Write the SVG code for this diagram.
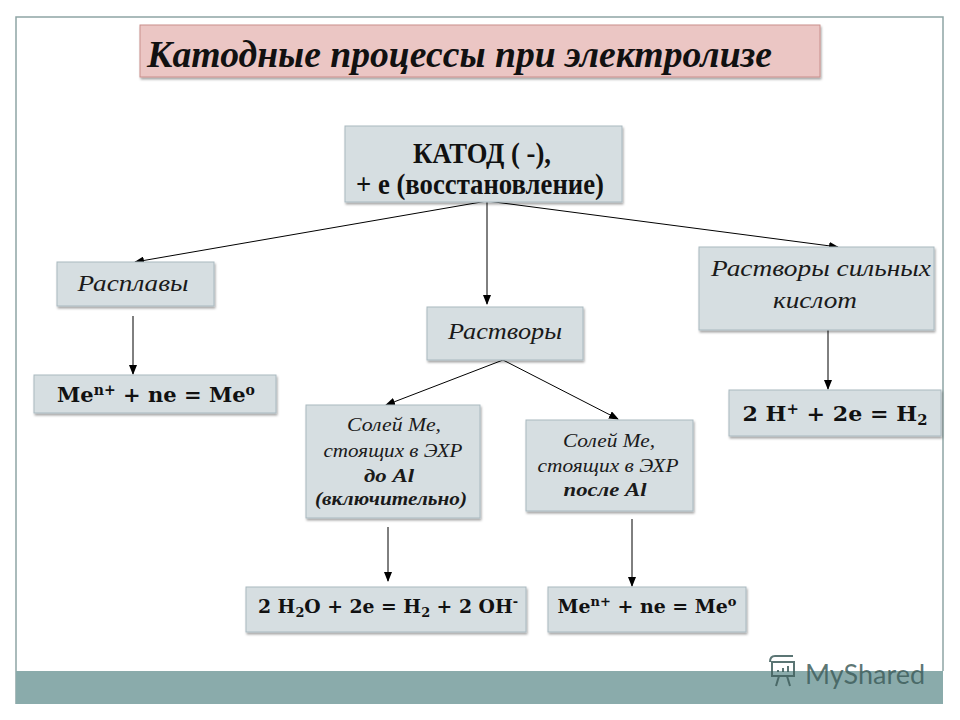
<svg xmlns="http://www.w3.org/2000/svg" width="960" height="720" viewBox="0 0 960 720">
<defs>
<marker id="arr" markerWidth="10" markerHeight="8" refX="9" refY="4" orient="auto" markerUnits="userSpaceOnUse">
<path d="M0,0 L10,4 L0,8 Z" fill="#000"/>
</marker>
<filter id="sh" x="-10%" y="-10%" width="130%" height="140%">
<feDropShadow dx="1" dy="2" stdDeviation="1.2" flood-color="#000" flood-opacity="0.35"/>
</filter>
</defs>
<style>
.box{fill:#d6dee1;stroke:#a9b9bf;stroke-width:1;filter:url(#sh)}
.it{font-family:'Liberation Serif','Times New Roman',serif;font-style:italic;fill:#1a1a1a;text-anchor:middle}
.bd{font-family:'DejaVu Serif','Liberation Serif',serif;font-weight:bold;fill:#111;text-anchor:middle}
.tn{font-family:'Liberation Serif','Times New Roman',serif;font-weight:bold;fill:#111;text-anchor:middle}
.con{stroke:#000;stroke-width:1;fill:none;marker-end:url(#arr)}
</style>
<rect x="0" y="0" width="960" height="720" fill="#fff"/>
<g id="frame">
<path d="M16,704 L16,17 L943,17 L943,671" fill="none" stroke="#8fa5a5" stroke-width="1.5"/>
<rect x="16" y="671" width="927" height="33" fill="#8aabab"/>
<text x="805" y="684" font-family="Lato, 'Open Sans', sans-serif" font-size="27" fill="#3f5e5c" fill-opacity="0.85">MyShared</text>
<g fill="none" stroke="#3f5e5c" stroke-width="2" opacity="0.85">
<rect x="772" y="662" width="22" height="14"/>
<line x1="779" y1="676" x2="776" y2="686"/>
<line x1="787" y1="676" x2="790" y2="686"/>
<line x1="778" y1="672" x2="778" y2="670"/>
<line x1="783" y1="672" x2="783" y2="668"/>
<line x1="788" y1="672" x2="788" y2="666"/>
<path d="M770,662 q0,-6 5,-6 h18"/>
</g>
</g>
<g id="title">
<rect x="140" y="25" width="680" height="52" fill="#ebc6c4" stroke="#c98f8c" stroke-width="1" filter="url(#sh)"/>
<text x="147" y="67" font-family="'Liberation Serif','Times New Roman',serif" font-weight="bold" font-style="italic" font-size="37" fill="#111" textLength="625" lengthAdjust="spacingAndGlyphs">Катодные процессы при электролизе</text>
</g>
<g id="connectors">
<line class="con" x1="487" y1="201" x2="135" y2="262"/>
<line class="con" x1="487" y1="201" x2="487" y2="304"/>
<line class="con" x1="487" y1="201" x2="838" y2="247"/>
<line class="con" x1="133" y1="316" x2="133" y2="374"/>
<line class="con" x1="503" y1="360" x2="386" y2="405"/>
<line class="con" x1="503" y1="360" x2="618" y2="419"/>
<line class="con" x1="828" y1="330" x2="828" y2="389"/>
<line class="con" x1="388" y1="527" x2="388" y2="581"/>
<line class="con" x1="632" y1="519" x2="632" y2="586"/>
</g>
<g id="katod">
<rect class="box" x="345" y="126" width="277" height="76"/>
<text class="tn" x="482" y="163" font-size="29" textLength="138" lengthAdjust="spacingAndGlyphs">КАТОД ( -),</text>
<text class="tn" x="480" y="194" font-size="29" textLength="248" lengthAdjust="spacingAndGlyphs">+ е (восстановление)</text>
</g>
<g id="rasplavy">
<rect class="box" x="57" y="262" width="157" height="44"/>
<text class="it" x="133" y="291" font-size="23" textLength="111" lengthAdjust="spacingAndGlyphs">Расплавы</text>
</g>
<g id="me1">
<rect class="box" x="34" y="375" width="242" height="38"/>
<text class="bd" x="156" y="402" font-size="21" textLength="198" lengthAdjust="spacingAndGlyphs">Me<tspan font-size="14" dy="-7">n+</tspan><tspan dy="7"> + ne = Me</tspan><tspan font-size="14" dy="-7">o</tspan></text>
</g>
<g id="rastvory">
<rect class="box" x="427" y="307" width="156" height="53"/>
<text class="it" x="505" y="339" font-size="23" textLength="114" lengthAdjust="spacingAndGlyphs">Растворы</text>
</g>
<g id="kisloty">
<rect class="box" x="699" y="247" width="235" height="83"/>
<text class="it" x="821" y="276" font-size="23" textLength="220" lengthAdjust="spacingAndGlyphs">Растворы сильных</text>
<text class="it" x="815" y="308" font-size="23" textLength="84" lengthAdjust="spacingAndGlyphs">кислот</text>
</g>
<g id="h2">
<rect class="box" x="729" y="390" width="212" height="46"/>
<text class="bd" x="835" y="421" font-size="21" textLength="185" lengthAdjust="spacingAndGlyphs">2 H<tspan font-size="14" dy="-7">+</tspan><tspan dy="7"> + 2e  =  H</tspan><tspan font-size="14" dy="4">2</tspan></text>
</g>
<g id="soli1">
<rect class="box" x="306" y="405" width="174" height="113"/>
<text class="it" x="394" y="431" font-size="18" textLength="94" lengthAdjust="spacingAndGlyphs">Солей Ме,</text>
<text class="it" x="393" y="457" font-size="18" textLength="139" lengthAdjust="spacingAndGlyphs">стоящих в ЭХР</text>
<text class="it" x="389" y="482" font-size="18" font-weight="bold" textLength="50" lengthAdjust="spacingAndGlyphs">до Al</text>
<text class="it" x="391" y="505" font-size="18" font-weight="bold" textLength="152" lengthAdjust="spacingAndGlyphs">(включительно)</text>
</g>
<g id="soli2">
<rect class="box" x="526" y="420" width="167" height="91"/>
<text class="it" x="609" y="447" font-size="18" textLength="92" lengthAdjust="spacingAndGlyphs">Солей Ме,</text>
<text class="it" x="608" y="472" font-size="18" textLength="141" lengthAdjust="spacingAndGlyphs">стоящих в ЭХР</text>
<text class="it" x="605" y="496" font-size="18" font-weight="bold" textLength="83" lengthAdjust="spacingAndGlyphs">после Al</text>
</g>
<g id="h2o">
<rect class="box" x="246" y="587" width="280" height="45"/>
<text class="bd" x="388" y="613" font-size="19" textLength="260" lengthAdjust="spacingAndGlyphs">2 H<tspan font-size="13" dy="4">2</tspan><tspan dy="-4">O + 2e = H</tspan><tspan font-size="13" dy="4">2</tspan><tspan dy="-4"> + 2 OH</tspan><tspan font-size="13" dy="-7">-</tspan></text>
</g>
<g id="me2">
<rect class="box" x="548" y="587" width="198" height="45"/>
<text class="bd" x="647" y="613" font-size="19" textLength="179" lengthAdjust="spacingAndGlyphs">Me<tspan font-size="13" dy="-7">n+</tspan><tspan dy="7"> + ne = Me</tspan><tspan font-size="13" dy="-7">o</tspan></text>
</g>
</svg>
